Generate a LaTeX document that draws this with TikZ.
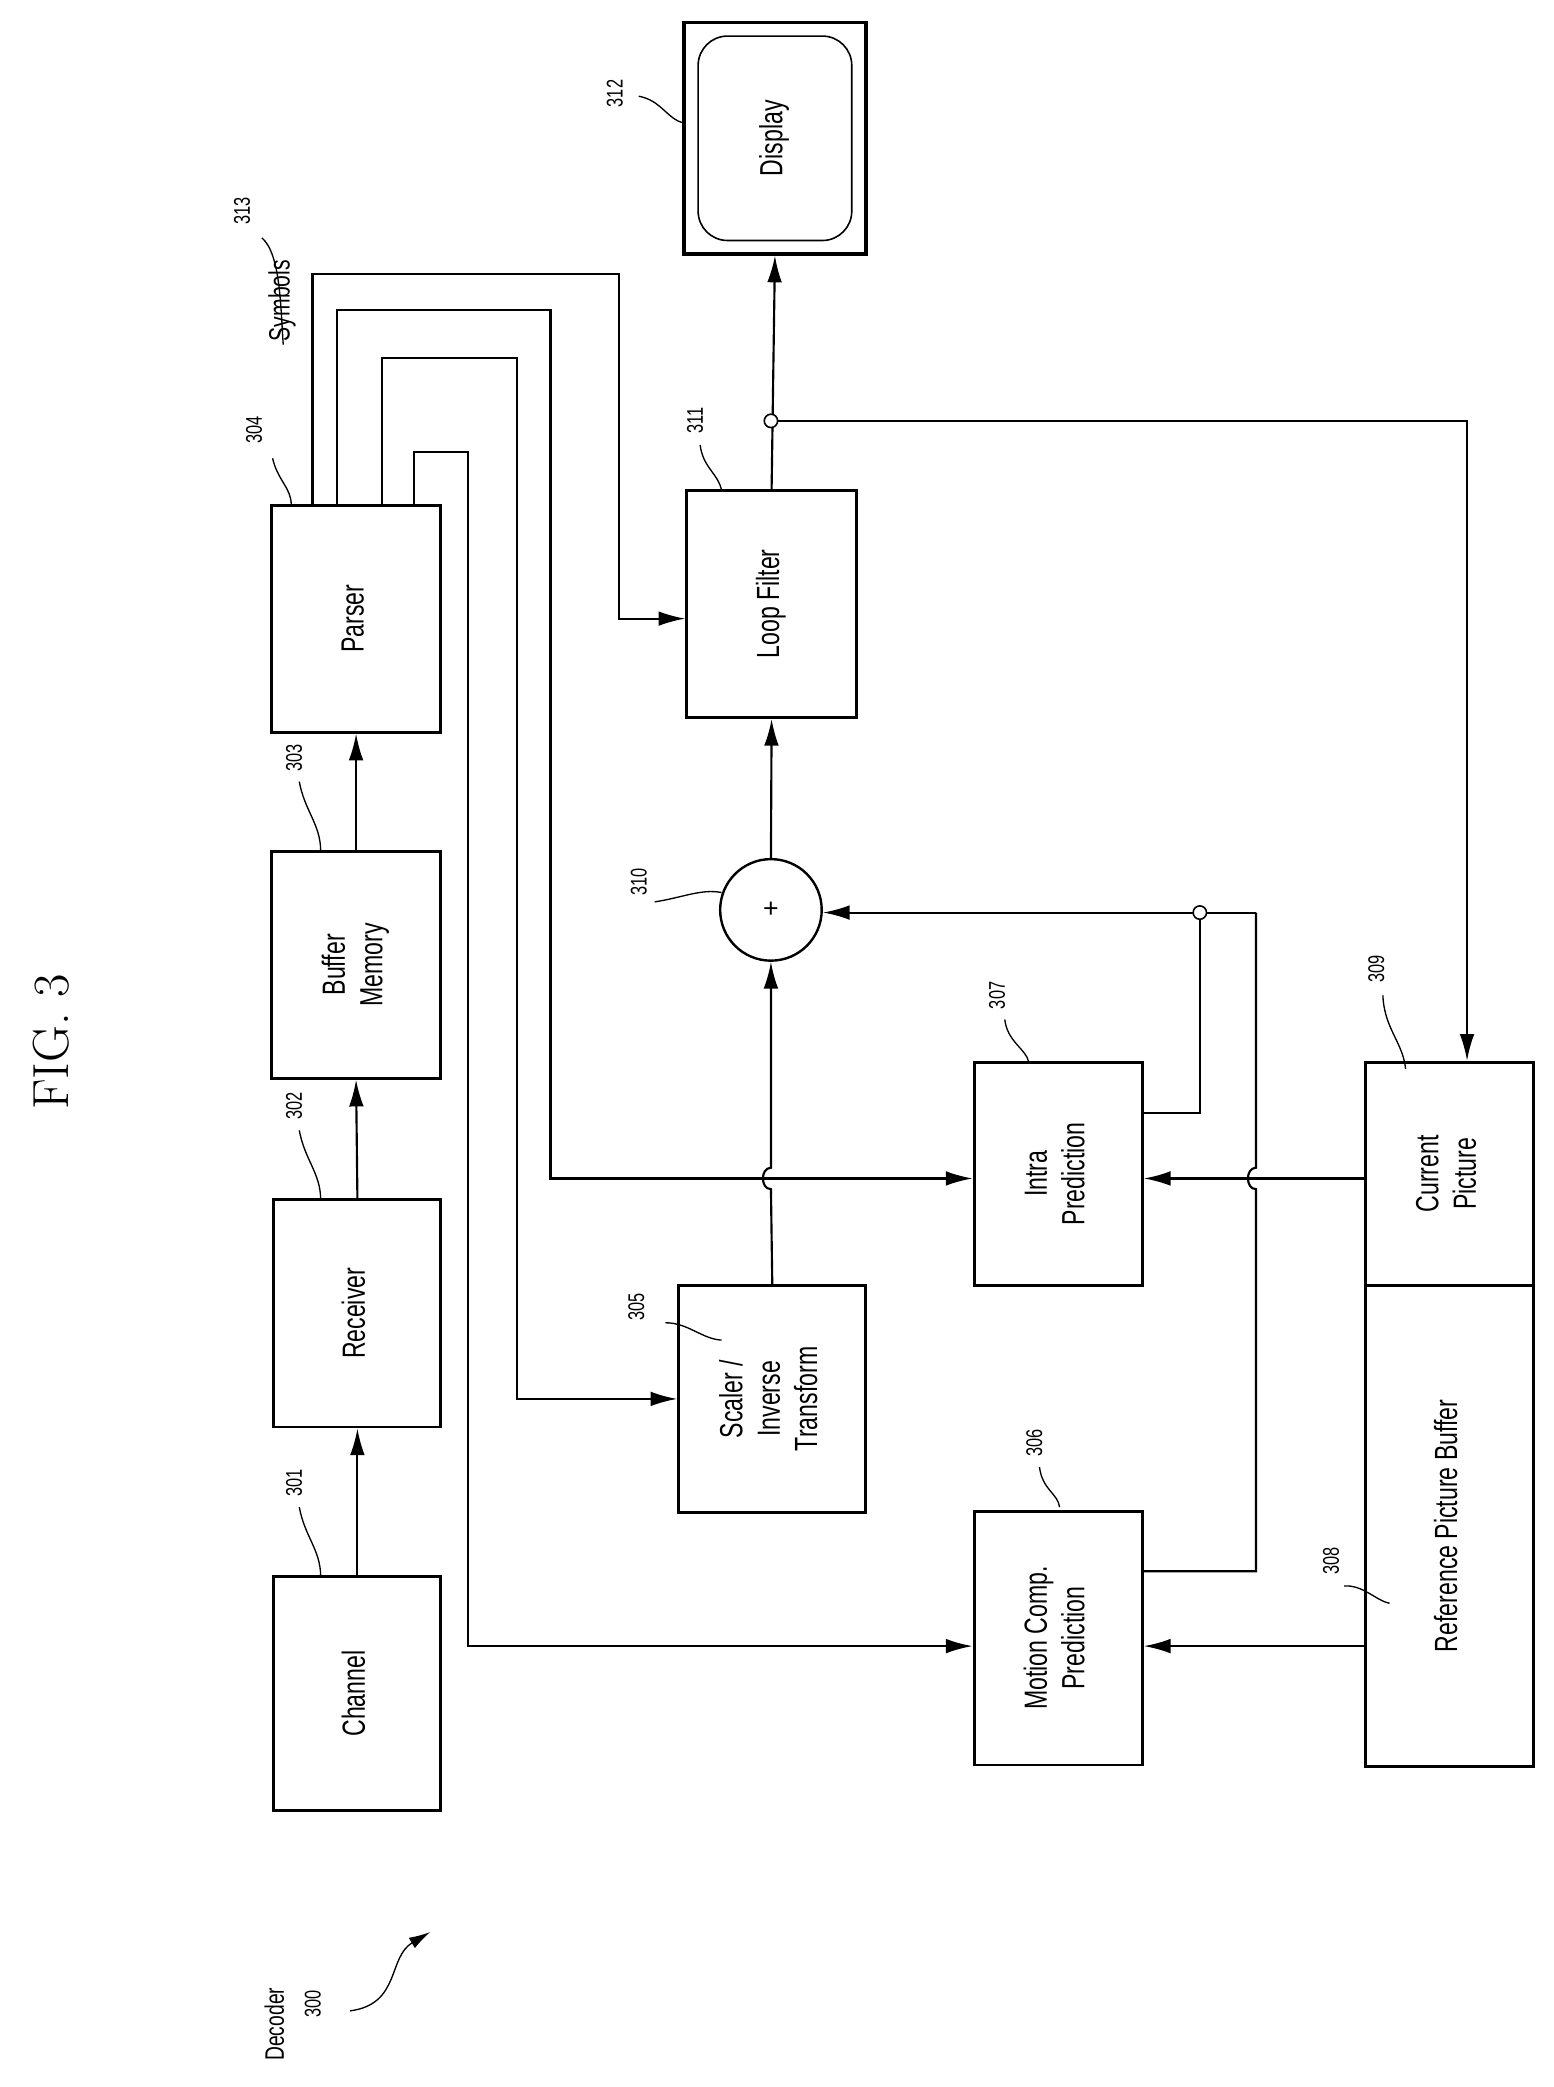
\documentclass[tikz,border=0pt]{standalone}
\usepackage{fontspec}
\usepackage{graphicx}
\setmainfont{Liberation Sans}
\usetikzlibrary{arrows.meta,calc}
\newcommand{\nt}[1]{\scalebox{0.72}[1]{\begin{tabular}{@{}c@{}}#1\end{tabular}}}
\begin{document}
\begin{tikzpicture}[x=1pt,y=-1pt,
  box/.style={draw,line width=2.2pt,inner sep=0pt},
  lbl/.style={rotate=90,font=\fontsize{24}{28}\selectfont,inner sep=0pt},
  num/.style={rotate=90,font=\fontsize{17}{20}\selectfont,inner sep=0pt},
  ln/.style={line width=1.6pt},
  arr/.style={ln,-{Latex[length=20pt,width=11pt]}},
  ld/.style={line width=1pt},
  jn/.style={draw,fill=white,circle,line width=1.2pt,minimum size=10pt,inner sep=0pt}]
\useasboundingbox (0,0) rectangle (1163,1562);
\node[rotate=90,font=\fontsize{38}{40}\selectfont\rmfamily,text width=,inner sep=0pt] (fig) at (38,780) {\setmainfont{Latin Modern Roman}FIG. 3};
% boxes
\node[box,minimum width=125pt,minimum height=175pt,label={[lbl]center:\nt{Channel}}] (ch) at (267.5,1267.5) {};
\node[box,minimum width=125pt,minimum height=170pt,label={[lbl]center:\nt{Receiver}}] (rc) at (267.5,983) {};
\node[box,minimum width=127pt,minimum height=170pt,label={[lbl]center:\nt{Buffer\\Memory}}] (bm) at (266.5,722) {};
\node[box,minimum width=127pt,minimum height=170pt,label={[lbl]center:\nt{Parser}}] (ps) at (266.5,463) {};
\node[box,minimum width=140pt,minimum height=170pt,label={[lbl]center:\nt{Scaler /\\Inverse\\Transform}}] (si) at (578,1047) {};
\node[box,minimum width=126pt,minimum height=190pt,label={[lbl]center:\nt{Motion Comp.\\Prediction}}] (mc) at (792,1226) {};
\node[box,minimum width=126pt,minimum height=167pt,label={[lbl]center:\nt{Intra\\Prediction}}] (ip) at (792,878.5) {};
\node[box,minimum width=126pt,minimum height=167pt,label={[lbl]center:\nt{Current\\Picture}}] (cp) at (1085,878.5) {};
\node[box,minimum width=126pt,minimum height=360pt,label={[lbl]center:\nt{Reference Picture Buffer}}] (rb) at (1085,1142) {};
\node[box,minimum width=127pt,minimum height=170pt,label={[lbl]center:\nt{Loop Filter}}] (lf) at (577.5,452) {};
\node[draw,circle,line width=1.8pt,minimum size=76pt,inner sep=0pt,font=\fontsize{20}{20}\selectfont] (add) at (577,681) {+};
\node[box,line width=2.6pt,minimum width=136pt,minimum height=173pt] (disp) at (580,103.5) {};
\node[draw,line width=1.2pt,rounded corners=22pt,minimum width=115pt,minimum height=153pt,inner sep=0pt,label={[lbl]center:\nt{Display}}] (dispin) at (580,103.5) {};
% chain
\draw[arr] (ch.north) -- (rc.south);
\draw[arr] (rc.north) -- (bm.south);
\draw[arr] (bm.north) -- (ps.south);
% parser outputs
\draw[arr] ([xshift=32pt]ps.north west) |- (463,205) |- (lf.west |- 0,463);
\draw[arr] ([xshift=50pt]ps.north west) |- (412,232) |- (ip.west |- 0,882);
\draw[arr] ([xshift=84pt]ps.north west) |- (387,268) |- (si.west);
\draw[arr] ([xshift=108pt]ps.north west) |- (350,338) |- (mc.west |- 0,1232);
% scaler to adder with hop
\draw[arr] (si.north) -- (577,890) .. controls (569,890) and (569,874) .. (577,874) -- (add.south);
\draw[arr] (add.north) -- (lf.south);
\coordinate (j1) at (577,315);
\draw[arr] (lf.north) -- (disp.south);
\draw[arr] (j1) -| (cp.north -| 1098,0);
\node[jn] at (j1) {};
% intra output
\coordinate (j2) at (898,683);
\draw[ln] (ip.east |- 0,833) -| (j2);
\draw[arr] (940,683) -- (j2) -- (add.east |- 0,683);
\draw[ln] (940,683) -- (940,874) .. controls (932,874) and (932,890) .. (940,890) -- (940,1176) -- (mc.east |- 0,1176);
\node[jn] at (j2) {};
\draw[arr] (cp.west |- 0,882) -- (ip.east |- 0,882);
\draw[arr] (rb.west |- 0,1232) -- (mc.east |- 0,1232);
% labels
\node[num] (l301) at (222,1110) {\nt{301}};
\draw[ld] (224,1128) .. controls (228,1150) and (240,1160) .. (240,1180);
\node[num] (l302) at (222,828) {\nt{302}};
\draw[ld] (224,846) .. controls (228,868) and (240,878) .. (240,898);
\node[num] (l303) at (222,567) {\nt{303}};
\draw[ld] (224,585) .. controls (228,607) and (240,617) .. (240,637);
\node[num] (l304) at (192,322) {\nt{304}};
\draw[ld] (204,343) .. controls (208,360) and (218,365) .. (218,378);
\node[num] (l313) at (183,158) {\nt{313}};
\draw[ld] (196,178) .. controls (210,190) and (210,230) .. (212,258);
\node[rotate=90,font=\fontsize{22}{24}\selectfont,inner sep=0pt] (sym) at (212,225) {\nt{Symbols}};
\node[num] (l305) at (478,978) {\nt{305}};
\draw[ld] (498,990) .. controls (515,990) and (525,1002) .. (540,1003);
\node[num] (l306) at (776,1080) {\nt{306}};
\draw[ld] (778,1098) .. controls (780,1115) and (792,1118) .. (793,1128);
\node[num] (l307) at (748,745) {\nt{307}};
\draw[ld] (752,763) .. controls (754,780) and (768,785) .. (770,795);
\node[num] (l308) at (998,1168) {\nt{308}};
\draw[ld] (1006,1187) .. controls (1020,1186) and (1030,1198) .. (1040,1200);
\node[num] (l309) at (1032,725) {\nt{309}};
\draw[ld] (1035,745) .. controls (1036,770) and (1050,780) .. (1052,800);
\node[num] (l310) at (480,660) {\nt{310}};
\draw[ld] (490,675) .. controls (510,672) and (525,665) .. (540,668);
\node[num] (l311) at (522,315) {\nt{311}};
\draw[ld] (524,333) .. controls (526,350) and (538,355) .. (540,367);
\node[num] (l312) at (462,70) {\nt{312}};
\draw[ld] (478,72) .. controls (495,75) and (500,90) .. (512,92);
% decoder
\node[num,font=\fontsize{20}{22}\selectfont] (dec) at (208,1515) {\nt{Decoder}};
\node[num] (l300) at (236,1500) {\nt{300}};
\coordinate (dt) at (322,1446);
\draw[ld,-{Latex[length=16pt,width=9pt]}] (262,1505) .. controls (300,1500) and (290,1465) .. (dt);
\end{tikzpicture}
\end{document}
